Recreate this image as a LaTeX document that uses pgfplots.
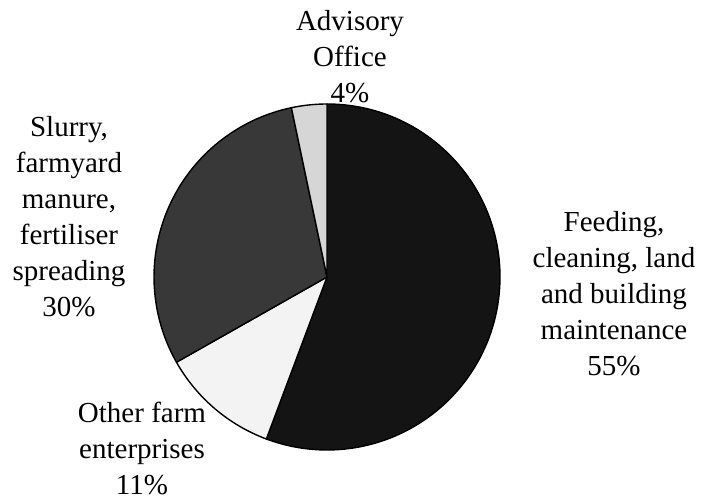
\documentclass[border=0pt]{standalone}
\usepackage{fontspec}
\setmainfont{Liberation Serif}
\usepackage{pgfplots}
\pgfplotsset{compat=1.18}

\definecolor{sliceA}{HTML}{141414}
\definecolor{sliceB}{HTML}{F3F3F3}
\definecolor{sliceC}{HTML}{383838}
\definecolor{sliceD}{HTML}{D6D6D6}

\begin{document}
\begin{tikzpicture}[font={\rmfamily\fontsize{29}{36}\selectfont}]
\path[use as bounding box] (0,0) rectangle (702pt,503pt);

\begin{axis}[
    at={(327pt,226pt)}, anchor=center,
    scale only axis, width=346pt, height=346pt,
    xmin=-1, xmax=1, ymin=-1, ymax=1,
    hide axis, clip=false,
]
% shares in percent, clockwise from 12 o'clock
\pgfmathsetmacro\startangle{90}
\foreach \share/\col in {55.7/sliceA, 11.1/sliceB, 29.9/sliceC, 3.3/sliceD} {
    \pgfmathsetmacro\endangle{\startangle-3.6*\share}
    \edef\temp{\noexpand\filldraw[fill=\col, draw=black, line width=1.4pt, line join=round]
        (axis cs:0,0) -- ++(\startangle:173pt)
        arc[start angle=\startangle, end angle=\endangle, radius=173pt] -- cycle;}
    \temp
    \global\let\startangle\endangle
}
\end{axis}

\node[align=center] at (350pt,446pt) {Advisory\\Office\\4\%};
\node[align=center] at (69pt,286pt) {Slurry,\\farmyard\\manure,\\fertiliser\\spreading\\30\%};
\node[align=center] at (614pt,209pt) {Feeding,\\cleaning, land\\and building\\maintenance\\55\%};
\node[align=center] at (142pt,55pt) {Other farm\\enterprises\\11\%};
\end{tikzpicture}
\end{document}
